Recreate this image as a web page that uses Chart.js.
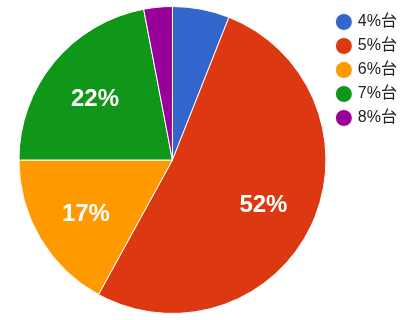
<!DOCTYPE html>
<html>
<head>
<meta charset="utf-8">
<script src="https://cdn.jsdelivr.net/npm/chart.js@4"></script>
<style>
  html, body { margin: 0; padding: 0; background: #fff; }
  #wrap { width: 420px; height: 320px; }
</style>
</head>
<body>
<div id="wrap"><canvas id="chart" width="420" height="320"></canvas></div>
<script>
const labels = ["4%台", "5%台", "6%台", "7%台", "8%台"];
const shares = [6, 52, 17, 22, 3];
const colors = ["#3366CC", "#DC3912", "#FF9900", "#109618", "#990099"];

// white percentage labels inside the larger slices
const sliceLabels = {
  id: "sliceLabels",
  afterDatasetsDraw(chart) {
    const ctx = chart.ctx;
    const meta = chart.getDatasetMeta(0);
    const total = shares.reduce((a, b) => a + b, 0);
    ctx.save();
    ctx.fillStyle = "#fff";
    ctx.font = "bold 24px Arial, 'Liberation Sans', sans-serif";
    ctx.textAlign = "center";
    ctx.textBaseline = "middle";
    meta.data.forEach((arc, i) => {
      const pct = Math.round(shares[i] / total * 100);
      if (pct < 10) return;
      const p = arc.getProps(["x", "y", "startAngle", "endAngle", "outerRadius"], true);
      const mid = (p.startAngle + p.endAngle) / 2;
      const r = p.outerRadius * 0.655;
      ctx.fillText(pct + "%", p.x + Math.cos(mid) * r, p.y + Math.sin(mid) * r + 3);
    });
    ctx.restore();
  }
};

new Chart(document.getElementById("chart"), {
  type: "pie",
  data: {
    labels: labels,
    datasets: [{
      data: shares,
      backgroundColor: colors,
      borderColor: "#fff",
      borderWidth: 1
    }]
  },
  options: {
    responsive: false,
    animation: false,
    layout: { padding: { left: 15, top: 6, bottom: 6, right: 13 } },
    plugins: {
      tooltip: { enabled: false },
      legend: {
        position: "right",
        align: "start",
        labels: {
          usePointStyle: true,
          pointStyle: "circle",
          boxWidth: 12,
          boxHeight: 12,
          padding: 8,
          color: "#222",
          font: { size: 16, family: "Arial, 'Liberation Sans', 'Noto Sans CJK JP', sans-serif" }
        }
      }
    }
  },
  plugins: [sliceLabels]
});
</script>
</body>
</html>
